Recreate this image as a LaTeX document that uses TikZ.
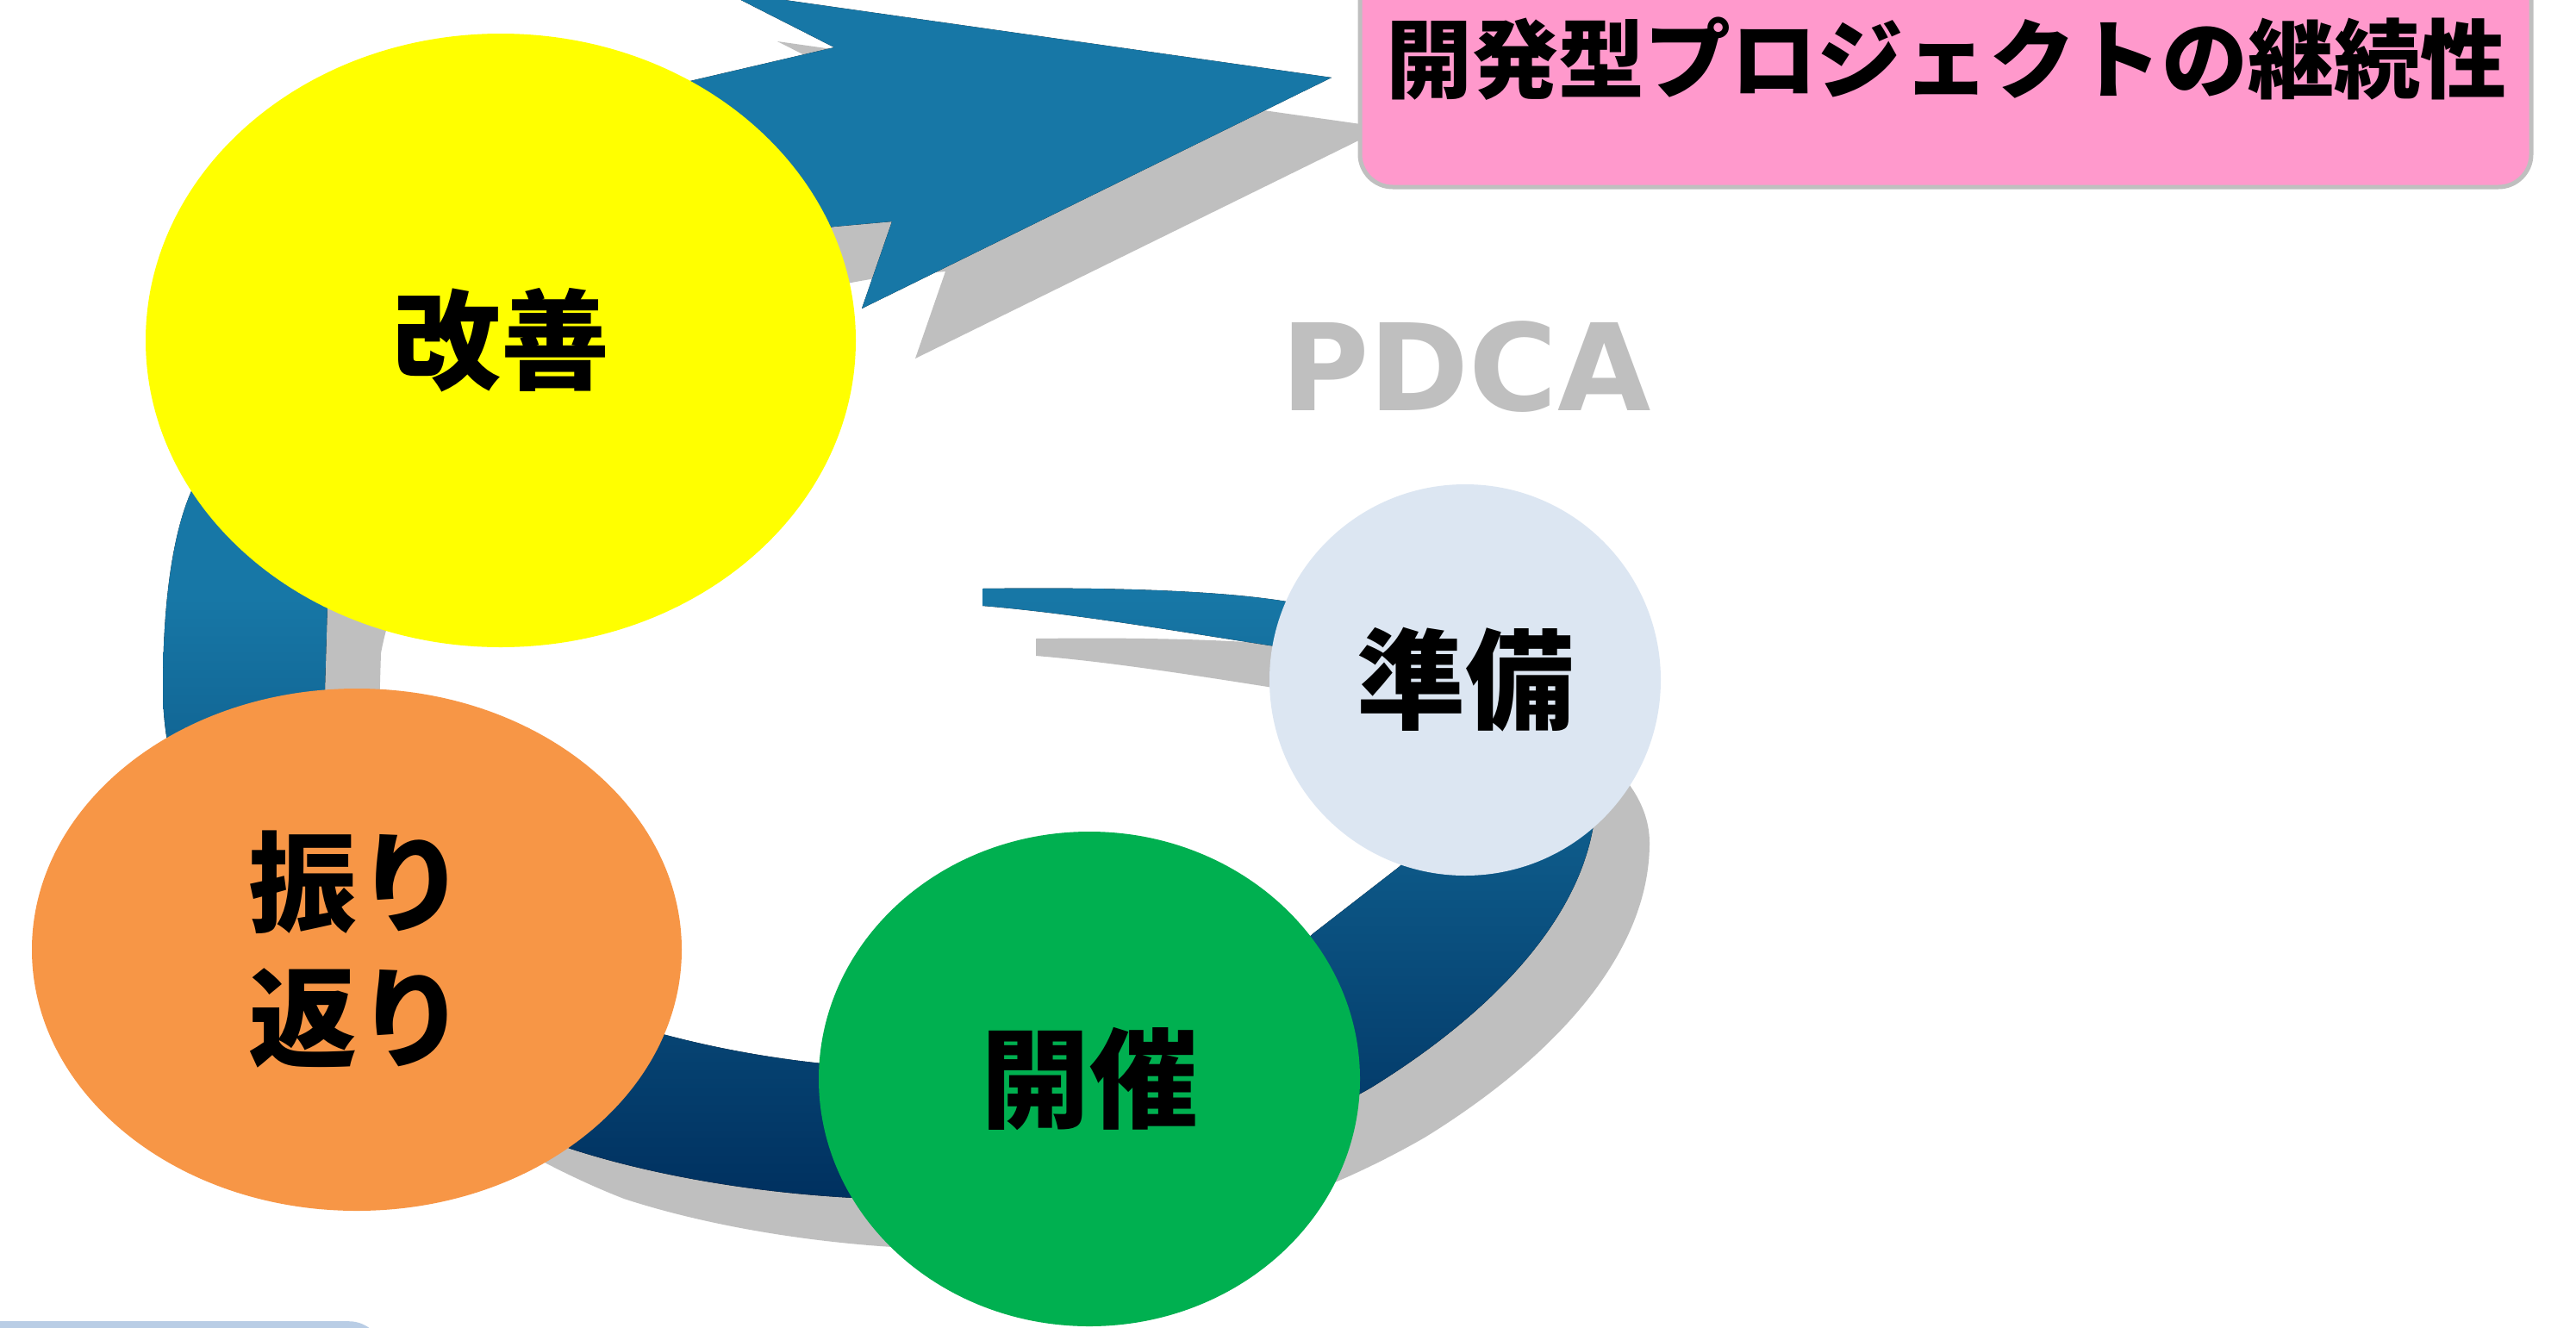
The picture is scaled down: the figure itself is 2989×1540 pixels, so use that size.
\documentclass[tikz,border=0pt]{standalone}
\usepackage{fontspec}
\newfontfamily\jp{Noto Sans CJK JP}
\newfontfamily\pdcafont{DejaVu Sans}
\usetikzlibrary{shapes.geometric}
\definecolor{bandtop}{HTML}{1777A6}
\definecolor{bandbot}{HTML}{00305F}
\definecolor{shadowgray}{HTML}{BFBFBF}
\definecolor{kaizenyellow}{HTML}{FFFF00}
\definecolor{furiorange}{HTML}{F79646}
\definecolor{kaisaigreen}{HTML}{00B050}
\definecolor{junbiblue}{HTML}{DCE6F2}
\definecolor{goalpink}{HTML}{FF99CC}
\definecolor{cornerblue}{HTML}{B9CDE5}
\def\bandpath{(1140,683)
 .. controls (1300,681) and (1420,686) .. (1493,698)
 .. controls (1643,723) and (1852,800) .. (1852,920)
 .. controls (1852,1050) and (1740,1170) .. (1591,1262)
 .. controls (1420,1360) and (1250,1395) .. (1050,1392)
 .. controls (900,1390) and (760,1365) .. (662,1333)
 .. controls (450,1250) and (189,1050) .. (189,800)
 .. controls (189,700) and (200,620) .. (222,570)
 .. controls (260,400) and (450,180) .. (805,93)
 -- (968,55) -- (840,-10) -- (1545,90) -- (1000,358) -- (1035,257) -- (968,263)
 .. controls (700,300) and (420,480) .. (380,700)
 -- (377,800)
 .. controls (377,1000) and (550,1150) .. (769,1200)
 .. controls (900,1235) and (1050,1250) .. (1200,1235)
 .. controls (1350,1215) and (1450,1150) .. (1524,1083)
 -- (1622,1007)
 .. controls (1682,960) and (1613,769) .. (1493,752)
 .. controls (1380,735) and (1250,712) .. (1140,703)
 -- cycle}
\begin{document}
\begin{tikzpicture}[x=1pt,y=-1pt,
  stage/.style={ellipse, inner sep=0pt, text=black, align=center,
    font=\jp\bfseries\fontsize{126}{157}\selectfont}]
\useasboundingbox (0,0) rectangle (2989,1540);
\clip (0,0) rectangle (2989,1540);
\fill[white] (0,0) rectangle (2989,1540);
% corner box at bottom left
\node[fill=cornerblue, rounded corners=40pt, minimum width=600pt, minimum height=200pt,
  inner sep=0pt, anchor=north east] (corner) at (445,1533) {};
% shadow and band
\begin{scope}[shift={(62,58)}]
\fill[shadowgray] \bandpath;
\end{scope}
\fill[top color=bandtop, bottom color=bandbot, middle color=bandtop] \bandpath;
% PDCA label
\node[text=shadowgray, font=\pdcafont\bfseries\fontsize{140}{140}\selectfont] (pdca) at (1701,426) {PDCA};
% stages
\node[stage, fill=kaizenyellow, minimum width=824pt, minimum height=712pt] (kaizen) at (581,395) {改善};
\node[stage, fill=furiorange, minimum width=754pt, minimum height=606pt] (furikaeri) at (414,1102) {振り\\返り};
\node[stage, fill=kaisaigreen, minimum width=628pt, minimum height=574pt] (kaisai) at (1264,1252) {開催};
\node[stage, fill=junbiblue, minimum width=454pt, minimum height=454pt] (junbi) at (1700,789) {準備};
% goal box
\node[draw=shadowgray, line width=5pt, fill=goalpink, rounded corners=38pt,
  minimum width=1359pt, minimum height=300pt, inner sep=0pt] (goalbox) at (2257.5,67) {};
\node[font=\jp\bfseries\fontsize{100}{120}\selectfont] (goal) at (2258,68) {開発型プロジェクトの継続性};
\end{tikzpicture}
\end{document}
